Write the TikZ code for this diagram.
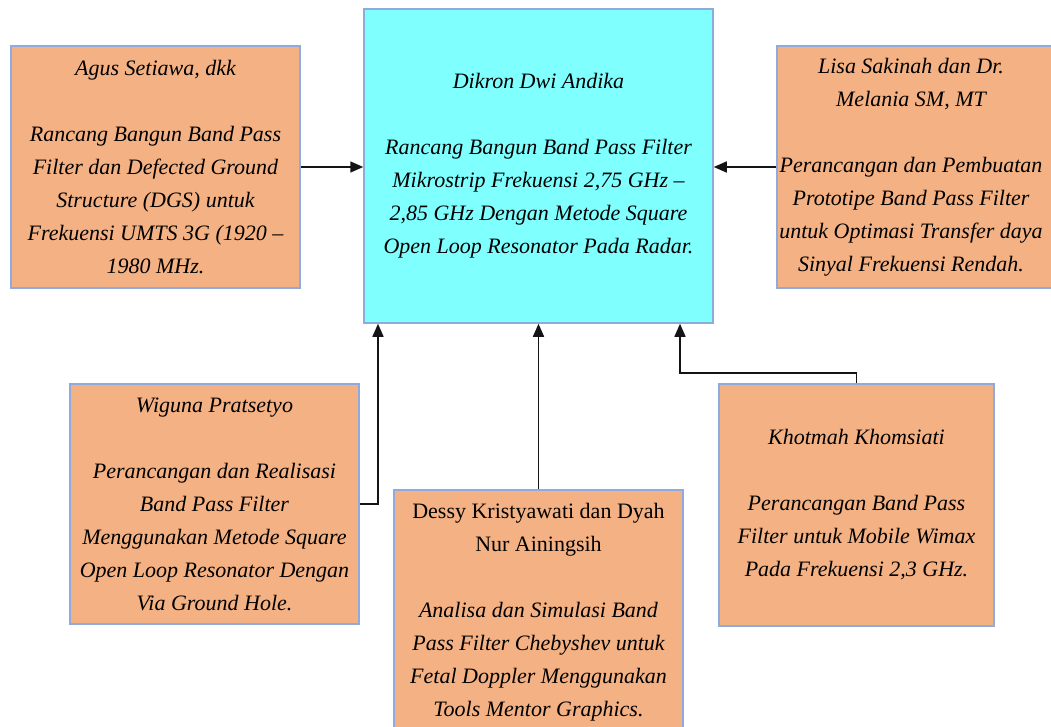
\documentclass[tikz,border=0pt]{standalone}
\usepackage{fontspec}
\setmainfont{Liberation Serif}[ItalicFont={Liberation Serif Italic}]
\usetikzlibrary{arrows.meta}
\definecolor{orf}{RGB}{244,177,131}
\definecolor{cyf}{RGB}{128,255,255}
\definecolor{bordc}{RGB}{143,170,220}
\definecolor{linec}{RGB}{20,20,20}
\tikzset{
  bx/.style={draw=bordc, line width=1.5pt, fill=orf, align=center, inner sep=0pt,
    font=\fontsize{22}{33}\selectfont\itshape},
  txt/.style={align=center, inner sep=0pt, font=\fontsize{22}{33}\selectfont\itshape},
  arr/.style={draw=linec, line width=1.5pt, -{Triangle[length=13pt,width=11pt]}}
}
\begin{document}
\begin{tikzpicture}[x=1pt,y=-1pt]
\useasboundingbox (0,0) rectangle (1051,726);
% center
\node[bx, fill=cyf, minimum width=349, minimum height=314] (ctr) at (538.5,166)
 {Dikron Dwi Andika\\[33pt]Rancang Bangun Band Pass Filter\\Mikrostrip Frekuensi 2,75 GHz –\\2,85 GHz Dengan Metode Square\\Open Loop Resonator Pada Radar.};
% left top
\node[bx, minimum width=289, minimum height=242] (lt) at (155.5,167)
 {Agus Setiawa, dkk\\[33pt]Rancang Bangun Band Pass\\Filter dan Defected Ground\\Structure (DGS) untuk\\Frekuensi UMTS 3G (1920 –\\1980 MHz.};
% right top
\node[bx, minimum width=281, minimum height=242] (rt) at (917.5,167) {};
\node[txt] (rtt) at (911,167)
 {Lisa Sakinah dan Dr.\\Melania SM, MT\\[33pt]Perancangan dan Pembuatan\\Prototipe Band Pass Filter\\untuk Optimasi Transfer daya\\Sinyal Frekuensi Rendah.};
% bottom left
\node[bx, minimum width=289, minimum height=240] (bl) at (214.5,504)
 {Wiguna Pratsetyo\\[33pt]Perancangan dan Realisasi\\Band Pass Filter\\Menggunakan Metode Square\\Open Loop Resonator Dengan\\Via Ground Hole.};
% bottom middle
\node[bx, minimum width=289, minimum height=244] (bm) at (538.5,612)
 {{\upshape Dessy Kristyawati dan Dyah}\\{\upshape Nur Ainingsih}\\[33pt]Analisa dan Simulasi Band\\Pass Filter Chebyshev untuk\\Fetal Doppler Menggunakan\\Tools Mentor Graphics.};
% bottom right
\node[bx, minimum width=275, minimum height=242] (br) at (856.5,505)
 {Khotmah Khomsiati\\[33pt]Perancangan Band Pass\\Filter untuk Mobile Wimax\\Pada Frekuensi 2,3 GHz.};
% connectors
\coordinate (blx) at (378,504);
\coordinate (brk) at (680,373);
\draw[arr] (lt.east) -- (lt.east -| ctr.west);
\draw[arr] (rt.west) -- (rt.west -| ctr.east);
\draw[arr] (bl.east) -- (blx) -- (blx |- ctr.south);
\draw[arr] (bm.north) -- (bm.north |- ctr.south);
\draw[arr] (br.north) |- (brk) -- (brk |- ctr.south);
\end{tikzpicture}
\end{document}
